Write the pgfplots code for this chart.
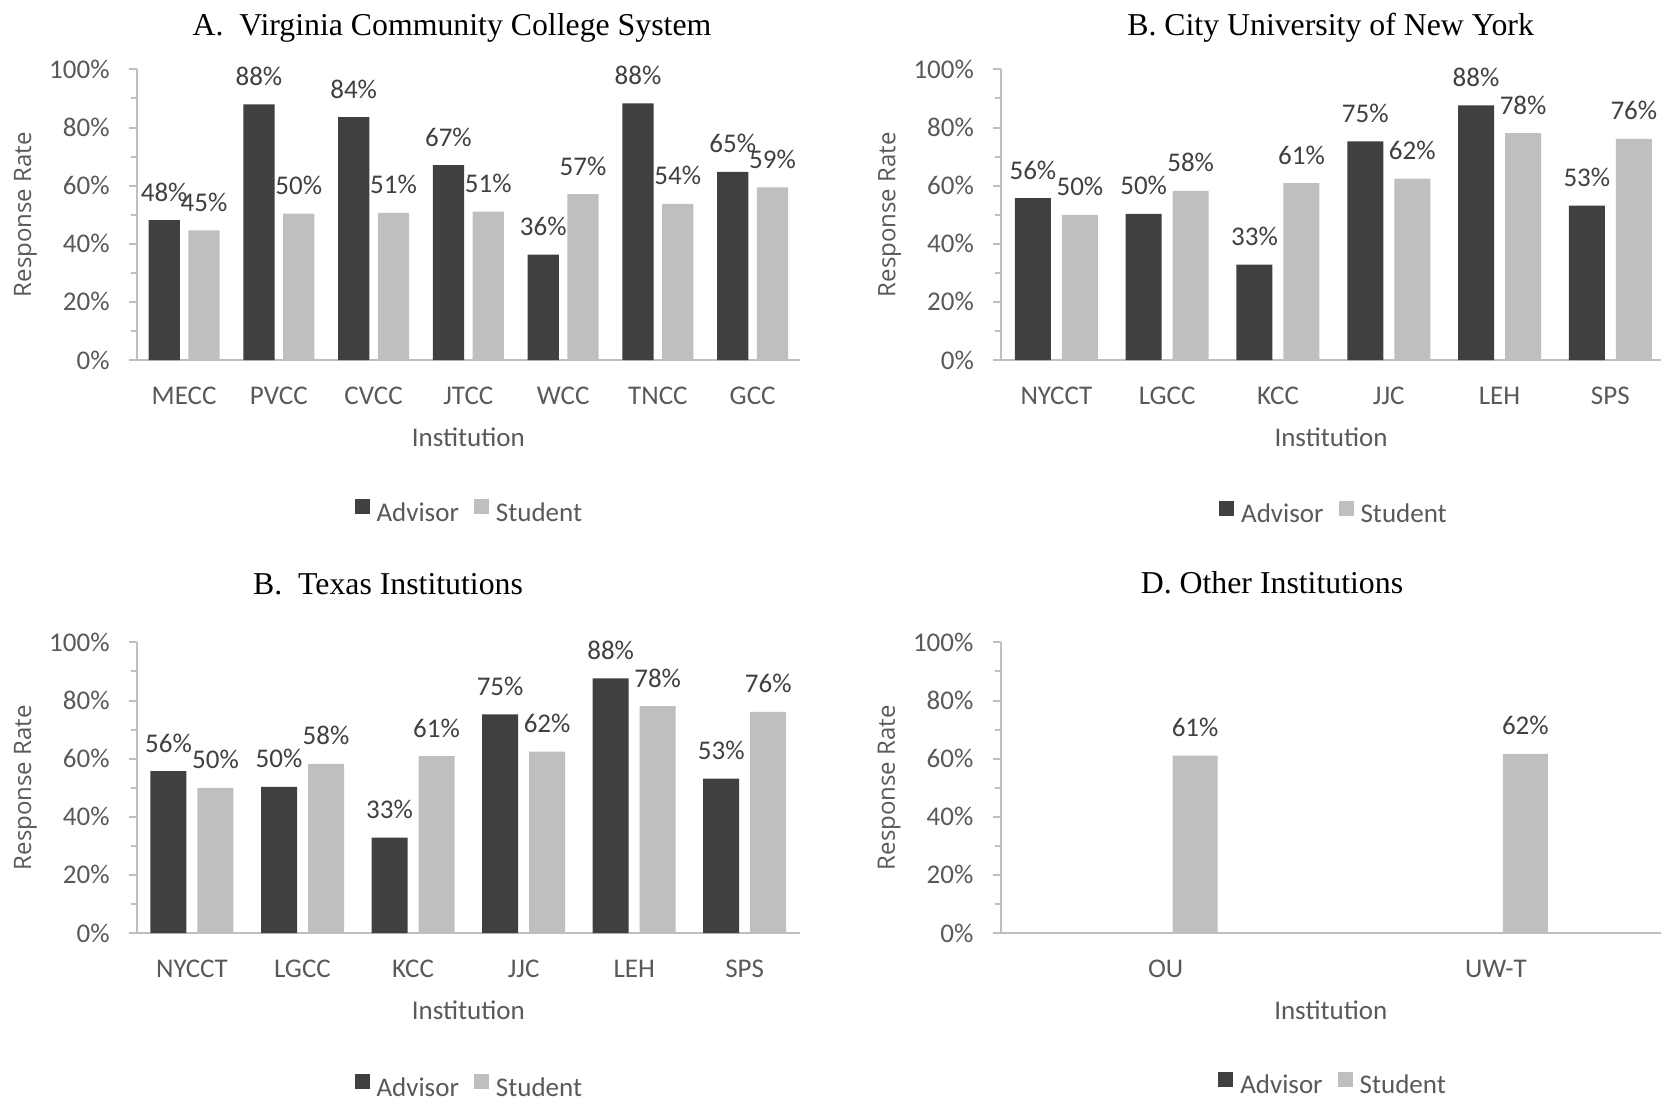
\documentclass[border=0pt]{standalone}
\usepackage{pgfplots}
\pgfplotsset{compat=1.18}
\usepackage{pgfplotstable}
\usepackage{fontspec}
\setmainfont{Carlito}
\newfontfamily\titlefont{Liberation Serif}
\newfontfamily\ylabfont{Open Sans}

\definecolor{advisor}{HTML}{404040}
\definecolor{student}{HTML}{BFBFBF}
\definecolor{axisgray}{HTML}{BFBFBF}
\definecolor{labelgray}{HTML}{595959}

% Response rates (percent) by institution
\pgfplotstableread{
x adv stu
0 48.1 44.6
1 88.0 50.4
2 83.6 50.6
3 67.1 51.1
4 36.3 57.1
5 88.3 53.7
6 64.7 59.4
}\vccs

\pgfplotstableread{
x adv stu
0 55.7 49.9
1 50.3 58.2
2 32.8 60.9
3 75.2 62.4
4 87.6 78.1
5 53.1 76.1
}\cuny

\pgfplotstableread{
x adv stu
0 0 61.0
1 0 61.6
}\other

\newcommand\ticksize{\fontsize{13.5pt}{16pt}\selectfont}

\pgfplotsset{
  panel/.style={
    scale only axis,
    height=145.3pt,
    ymin=0, ymax=100,
    enlargelimits=false,
    ytick={0,20,40,60,80,100},
    yticklabels={0\%,20\%,40\%,60\%,80\%,100\%},
    minor ytick={10,30,50,70,90},
    axis x line*=bottom,
    axis y line*=left,
    axis line style={draw=axisgray, line width=1pt},
    tick align=outside,
    major tick length=4pt,
    minor tick length=3pt,
    ytick style={draw=axisgray, line width=1pt},
    minor tick style={draw=axisgray, line width=1pt},
    xtick style={draw=none},
    tick label style={font=\ticksize, text=labelgray},
    yticklabel style={anchor=east, inner sep=0pt, xshift=-9.35pt},
    xticklabel style={anchor=base, inner sep=0pt, yshift=-18pt},
    xlabel={Institution},
    ylabel={Response Rate},
    xlabel style={font=\ticksize, text=labelgray, at={(axis description cs:0.5,0)}, anchor=base, inner sep=0pt, yshift=-43.3pt},
    ylabel style={font=\ylabfont\fontsize{12pt}{14pt}\selectfont, text=labelgray, anchor=center, inner sep=0pt},
    title style={font=\titlefont\fontsize{15.9pt}{18pt}\selectfont, anchor=base, inner sep=0pt},
    legend style={draw=none, fill=none, font=\ticksize, text=labelgray, legend columns=2, anchor=center, inner sep=0pt,
      nodes={inner sep=0pt},
      /tikz/every odd column/.style={column sep=3.5pt},
      /tikz/every even column/.style={column sep=7.5pt}},
    ybar,
    nodes near coords={\pgfmathprintnumber[fixed,precision=0,assume math mode=true]{\pgfplotspointmeta}\%},
    nodes near coords style={font=\ticksize, text=advisor, anchor=base, inner sep=0pt, yshift=9.5pt},
  },
  % square legend swatches, applied after the bar settings
  sqlegend/.style={
    legend image code/.code={\fill[##1] (0pt,-0.5pt) rectangle (7.5pt,7pt);},
  },
}

\begin{document}
\begin{tikzpicture}
\useasboundingbox (0,0) rectangle (830.5pt,550pt);

% A: Virginia
\begin{axis}[panel, at={(68.35pt,370pt)}, anchor=south west, width=331.65pt,
  xmin=-0.5, xmax=6.5, xtick={0,...,6},
  xticklabels={MECC,PVCC,CVCC,JTCC,WCC,TNCC,GCC},
  bar width=15.65pt, ybar=4.25pt, sqlegend,
  title={A.\ \ Virginia Community College System},
  title style={at={(axis description cs:0.4754,1.0757)}},
  ylabel style={at={(axis description cs:-0.1676,0.5)}},
  legend style={at={(axis description cs:0.5,-0.522)}}]
\addplot[fill=advisor, draw=none] table[x=x,y=adv]{\vccs};
\addplot[fill=student, draw=none] table[x=x,y=stu]{\vccs};
\legend{Advisor,Student}
\end{axis}

% B: CUNY
\begin{axis}[panel, at={(500.5pt,370pt)}, anchor=south west, width=330pt,
  xmin=-0.5, xmax=5.457, xtick={0,...,5},
  xticklabels={NYCCT,LGCC,KCC,JJC,LEH,SPS},
  bar width=18pt, ybar=5.5pt, sqlegend,
  title={B. City University of New York},
  title style={at={(axis description cs:0.4994,1.0764)}},
  ylabel style={at={(axis description cs:-0.1685,0.5)}},
  legend style={at={(axis description cs:0.503,-0.527)}}]
\addplot[fill=advisor, draw=none] table[x=x,y=adv]{\cuny};
\addplot[fill=student, draw=none] table[x=x,y=stu]{\cuny};
\legend{Advisor,Student}
\end{axis}

% C: Texas
\begin{axis}[panel, at={(68.35pt,83.5pt)}, anchor=south west, width=331.65pt,
  xmin=-0.5, xmax=5.5, xtick={0,...,5},
  xticklabels={NYCCT,LGCC,KCC,JJC,LEH,SPS},
  bar width=18pt, ybar=5.5pt, sqlegend,
  title={B.\ \ Texas Institutions},
  title style={at={(axis description cs:0.3789,1.1231)}},
  ylabel style={at={(axis description cs:-0.1676,0.5)}},
  legend style={at={(axis description cs:0.5,-0.529)}}]
\addplot[fill=advisor, draw=none] table[x=x,y=adv]{\cuny};
\addplot[fill=student, draw=none] table[x=x,y=stu]{\cuny};
\legend{Advisor,Student}
\end{axis}

% D: Other (no advisor responses)
\begin{axis}[panel, at={(500.25pt,83.5pt)}, anchor=south west, width=330.25pt,
  xmin=-0.5, xmax=1.5, xtick={0,1},
  xticklabels={OU,UW-T},
  bar width=22.5pt, ybar=7pt, sqlegend,
  title={D. Other Institutions},
  title style={at={(axis description cs:0.411,1.1264)}},
  ylabel style={at={(axis description cs:-0.1684,0.5)}},
  legend style={at={(axis description cs:0.502,-0.52)}}]
\addplot[fill=none, draw=none, nodes near coords={},
  legend image code/.code={\fill[advisor] (0pt,-0.5pt) rectangle (7.5pt,7pt);}]
  table[x=x,y=adv]{\other};
\addplot[fill=student, draw=none] table[x=x,y=stu]{\other};
\legend{Advisor,Student}
\end{axis}
\end{tikzpicture}
\end{document}
